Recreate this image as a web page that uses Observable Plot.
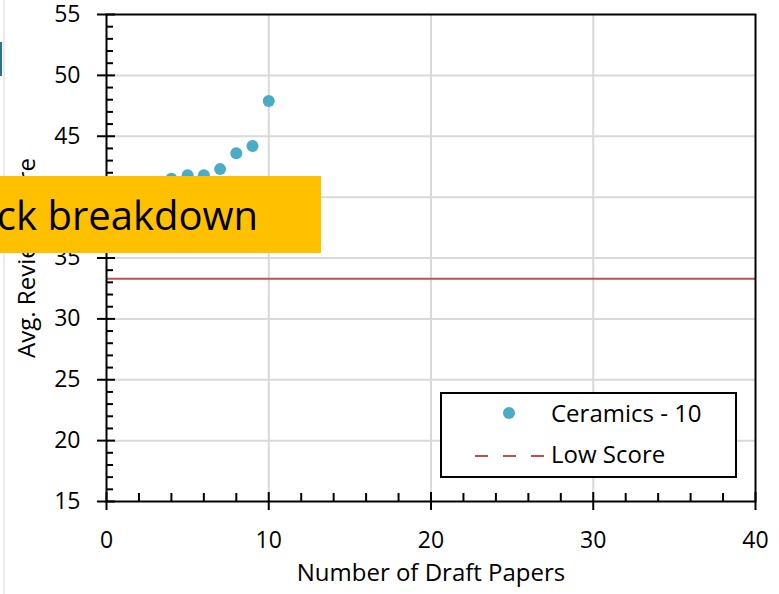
<!DOCTYPE html>
<html>
<head>
<meta charset="utf-8">
<script src="https://cdn.jsdelivr.net/npm/d3@7"></script>
<script src="https://cdn.jsdelivr.net/npm/@observablehq/plot@0.6"></script>
<style>
  html, body { margin: 0; padding: 0; background: #fff; }
  #wrap { position: relative; width: 779px; height: 594px; overflow: hidden; font-family: "Open Sans", sans-serif; }
  #edge { position: absolute; left: 3px; top: 0; width: 2px; height: 594px; background: #e6ecf2; }
  #tab { position: absolute; left: 0; top: 42px; width: 2px; height: 34px; background: #31708a; }
  #banner { position: absolute; left: 0; top: 176px; width: 321px; height: 77px; background: #FFC000; overflow: hidden; }
  #banner span { position: absolute; right: 63px; top: 11px; font-size: 40px; color: #000; white-space: nowrap; line-height: normal; }
  #legend { position: absolute; left: 0; top: 0; }
</style>
</head>
<body>
<div id="wrap"></div>
<script>
// ---- data ----
const drafts = [4, 5, 6, 7, 8, 9, 10];
const scores = [41.5, 41.8, 41.8, 42.3, 43.6, 44.2, 47.9];
const lowScore = 33.3;
const seriesNames = ["Ceramics - 10", "Low Score"];
const xTicks = [0, 10, 20, 30, 40];
const xMinorTicks = [2, 4, 6, 8, 12, 14, 16, 18, 22, 24, 26, 28, 32, 34, 36, 38];
const yTicks = [15, 20, 25, 30, 35, 40, 45, 50, 55];
const yMinorTicks = d3.range(16, 55).filter(v => v % 5 !== 0);
const xLabel = "Number of Draft Papers";
const yLabel = "Avg. Review Score";
const bannerText = "ck breakdown";

const points = drafts.map((x, i) => ({x, y: scores[i]}));
const blank = () => "";

const chart = Plot.plot({
  width: 779,
  height: 594,
  marginLeft: 106,
  marginRight: 24,
  marginTop: 14,
  marginBottom: 93,
  x: {domain: [0, 40]},
  y: {domain: [15, 55]},
  style: {fontFamily: "Open Sans", fontSize: "23px", color: "#000", background: "#fff", overflow: "visible"},
  marks: [
    Plot.gridX(xTicks.slice(1, -1), {stroke: "#d9d9d9", strokeOpacity: 1, strokeWidth: 2}),
    Plot.gridY(yTicks.slice(1, -1), {stroke: "#d9d9d9", strokeOpacity: 1, strokeWidth: 2}),
    Plot.ruleY([lowScore], {stroke: "#C0504D", strokeWidth: 2}),
    Plot.dot(points, {x: "x", y: "y", r: 6, fill: "#4BACC6", stroke: "none"}),
    Plot.frame({stroke: "#000", strokeWidth: 2}),
    Plot.axisX(xTicks, {tickSize: 9, tickPadding: 21, strokeWidth: 2, label: null, fontSize: 23}),
    Plot.axisX(xTicks, {tickSize: -9, tickFormat: blank, strokeWidth: 2, label: null}),
    Plot.axisX(xMinorTicks, {tickSize: -8, tickFormat: blank, strokeWidth: 2, label: null}),
    Plot.axisY(yTicks, {tickSize: 9, tickPadding: 17, strokeWidth: 2, label: null, fontSize: 23}),
    Plot.axisY(yTicks, {tickSize: -9, tickFormat: blank, strokeWidth: 2, label: null}),
    Plot.axisY(yMinorTicks, {tickSize: -7, tickFormat: blank, strokeWidth: 2, label: null}),
    Plot.text([yLabel], {frameAnchor: "left", textAnchor: "middle", dx: -79, rotate: -90, fontSize: 24, fill: "#000"}),
    Plot.text([xLabel], {frameAnchor: "bottom", dy: 79, fontSize: 24, fill: "#000"})
  ]
});

const wrap = document.getElementById("wrap");
wrap.appendChild(chart);

// legend overlay
const lg = d3.select(wrap).append("svg")
  .attr("id", "legend").attr("width", 779).attr("height", 594)
  .style("font-family", "Open Sans").style("font-size", "24px");
lg.append("rect").attr("x", 441).attr("y", 393).attr("width", 295).attr("height", 84)
  .attr("fill", "#fff").attr("stroke", "#000").attr("stroke-width", 2);
lg.append("circle").attr("cx", 509).attr("cy", 413).attr("r", 6).attr("fill", "#4BACC6");
lg.append("text").attr("x", 551).attr("y", 422).text(seriesNames[0]);
lg.append("line").attr("x1", 475).attr("x2", 545).attr("y1", 456).attr("y2", 456)
  .attr("stroke", "#C0504D").attr("stroke-width", 2).attr("stroke-dasharray", "13 15");
lg.append("text").attr("x", 551).attr("y", 463).text(seriesNames[1]);

// decorations
const edge = document.createElement("div"); edge.id = "edge"; wrap.appendChild(edge);
const tab = document.createElement("div"); tab.id = "tab"; wrap.appendChild(tab);
const banner = document.createElement("div"); banner.id = "banner";
const span = document.createElement("span"); span.textContent = bannerText;
banner.appendChild(span); wrap.appendChild(banner);
</script>
</body>
</html>
